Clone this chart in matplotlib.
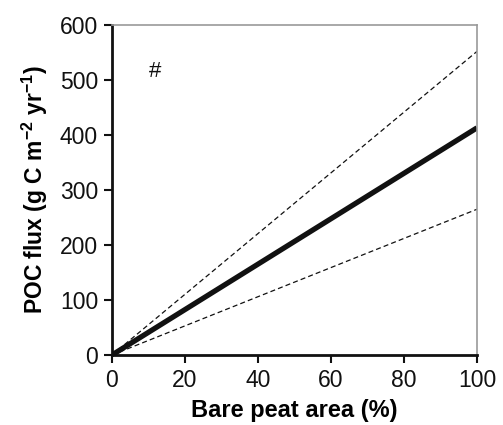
import matplotlib
matplotlib.use("Agg")
import matplotlib.pyplot as plt

plt.rcParams['font.family'] = ['Liberation Sans', 'DejaVu Sans']
plt.rcParams['mathtext.fontset'] = 'custom'
plt.rcParams['mathtext.rm'] = 'Liberation Sans'
plt.rcParams['mathtext.bf'] = 'Liberation Sans:bold'

x = [0, 100]
central = [0, 413]
upper = [0, 552]
lower = [0, 265]

fig = plt.figure(figsize=(5.03, 4.25), dpi=100)
ax = fig.add_axes([112/503, 1-355/425, 365/503, 330/425])
ax.plot(x, central, color='#111111', lw=3.8, solid_capstyle='butt')
ax.plot(x, upper, color='#111111', lw=0.9, ls=(0, (4, 2.5)))
ax.plot(x, lower, color='#111111', lw=0.9, ls=(0, (4, 2.5)))
ax.set_xlim(0, 100)
ax.set_ylim(0, 600)
ax.set_xticks([0, 20, 40, 60, 80, 100])
ax.set_yticks([0, 100, 200, 300, 400, 500, 600])
ax.tick_params(direction='out', length=6, width=1.5, labelsize=16.5, colors='#111111', pad=4)
for s in ['left', 'bottom']:
    ax.spines[s].set_linewidth(2)
    ax.spines[s].set_color('#111111')
for s in ['top', 'right']:
    ax.spines[s].set_linewidth(1.2)
    ax.spines[s].set_color('#999999')
ax.text(11.8, 516, '#', ha='center', va='center', fontsize=16, color='#111111')
ax.set_xlabel('Bare peat area (%)', fontsize=17, fontweight='bold', labelpad=5)
ax.set_ylabel(r'POC flux (g C m$^{\mathbf{-2}}$ yr$^{\mathbf{-1}}$)', fontsize=16.5, fontweight='bold', labelpad=7)
fig.savefig('out.png', dpi=100)
